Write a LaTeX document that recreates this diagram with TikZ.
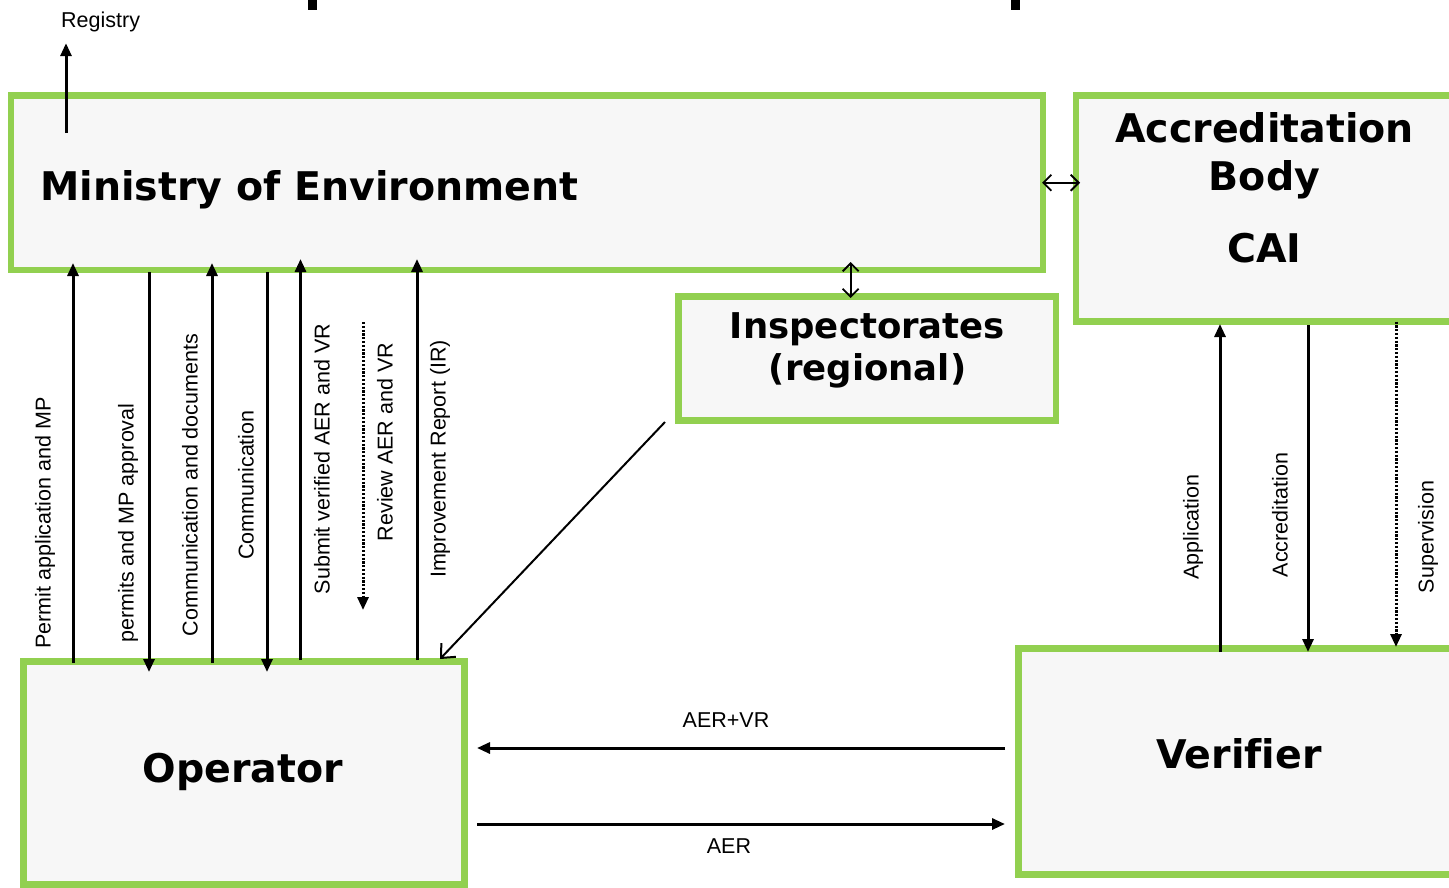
\documentclass[tikz,border=0pt]{standalone}
\usepackage{fontspec}
\setmainfont{Liberation Sans}[Ligatures=NoCommon]
\newfontfamily\titlef{DejaVu Sans}[Ligatures=NoCommon]
\usetikzlibrary{arrows.meta,calc}
\definecolor{boxgreen}{HTML}{92D050}
\definecolor{boxfill}{HTML}{F7F7F7}
\begin{document}
\begin{tikzpicture}[x=1pt,y=-1pt,
  box/.style={draw=boxgreen,fill=boxfill,line width=6.5pt,rectangle,inner sep=0pt,outer sep=0pt},
  title/.style={font=\titlef\bfseries\fontsize{39.5}{46}\selectfont,inner sep=0pt,anchor=base},
  smalltitle/.style={title,font=\titlef\bfseries\fontsize{35.5}{42}\selectfont},
  lbl/.style={font=\fontsize{21.5}{25}\selectfont,inner sep=0pt},
  vlbl/.style={lbl,rotate=90},
  arr/.style={line width=3pt,-{Triangle[length=13pt,width=11pt]}},
  dotarr/.style={arr,dash pattern=on 2.2pt off 1.6pt},
  thinarr/.style={line width=1.8pt,{Straight Barb[length=8pt,width=16pt]}-{Straight Barb[length=8pt,width=16pt]}},
  diagarr/.style={line width=2pt,-{Straight Barb[length=11pt,width=20pt]}},
]
\useasboundingbox (0,0) rectangle (1449,887);
\fill[white] (0,0) rectangle (1449,887);
\clip (0,0) rectangle (1449,887);

% fragments of the cut-off heading
\fill[black] (308,0) rectangle (317,10);
\fill[black] (1011,0) rectangle (1020,10);

% boxes
\node[box,minimum width=1032pt,minimum height=174.5pt] (ministry) at (527,182.75) {};
\node[box,minimum width=404pt,minimum height=226pt] (accred) at (1278,208.5) {};
\node[box,minimum width=377.5pt,minimum height=124pt] (insp) at (867.25,358.5) {};
\node[box,minimum width=441pt,minimum height=223pt] (operator) at (244,773) {};
\node[box,minimum width=461.5pt,minimum height=226pt] (verifier) at (1249.25,761.5) {};

% titles
\node[title,anchor=base west] (tministry) at (40,200) {Ministry of Environment};
\node[title] (tacc1) at (1264.5,142) {Accreditation};
\node[title] (tacc2) at (1264.5,190) {Body};
\node[title] (tcai) at (1264.5,262) {CAI};
\node[smalltitle] (tinsp1) at (867.5,338) {Inspectorates};
\node[smalltitle] (tinsp2) at (867.5,380) {(regional)};
\node[title] (toper) at (243,782) {Operator};
\node[title] (tver) at (1239,768) {Verifier};

% labels
\node[lbl,anchor=base west] (lreg) at (61,27) {Registry};
\node[vlbl] (l1) at (45,523) {Permit application and MP};
\node[vlbl] (l2) at (128,523) {permits and MP approval};
\node[vlbl] (l3) at (190,485) {Communication and documents};
\node[vlbl] (l4) at (246,485) {Communication};
\node[vlbl] (l5) at (322,459) {Submit verified AER and VR};
\node[vlbl] (l6) at (385,442) {Review AER and VR};
\node[vlbl] (l7) at (440,459) {Improvement Report (IR)};
\node[vlbl] (l8) at (1193,527) {Application};
\node[vlbl] (l9) at (1280,515) {Accreditation};
\node[vlbl] (l10) at (1428,537) {Supervision};
\node[lbl] (l11) at (726,720) {AER+VR};
\node[lbl] (l12) at (729,846) {AER};

% x / y guides
\coordinate (xr) at (66,0);
\coordinate (x1) at (73,0);
\coordinate (x2) at (149,0);
\coordinate (x3) at (212,0);
\coordinate (x4) at (267,0);
\coordinate (x5) at (300.5,0);
\coordinate (x7) at (417,0);
\coordinate (xi) at (850.7,0);
\coordinate (xa) at (1220,0);
\coordinate (xb) at (1308,0);
\coordinate (xs) at (1396,0);
\coordinate (yA) at (0,748);
\coordinate (yB) at (0,824);
\coordinate (rv1) at (363,322);
\coordinate (rv2) at (363,610);

% registry
\draw[arr,shorten <=-37.5pt,shorten >=11.5pt] (ministry.north -| xr) -- (lreg.south -| xr);

% ministry <-> operator
\draw[arr,shorten <=-1.5pt,shorten >=-7pt] (operator.north -| x1) -- (ministry.south -| x1);
\draw[arr,shorten <=2pt,shorten >=-10.5pt] (ministry.south -| x2) -- (operator.north -| x2);
\draw[arr,shorten <=-1.5pt,shorten >=-7pt] (operator.north -| x3) -- (ministry.south -| x3);
\draw[arr,shorten <=2pt,shorten >=-10.5pt] (ministry.south -| x4) -- (operator.north -| x4);
\draw[arr,shorten <=1.5pt,shorten >=-11pt] (operator.north -| x5) -- (ministry.south -| x5);
\draw[dotarr] (rv1) -- (rv2);
\draw[arr,shorten <=1.5pt,shorten >=-11pt] (operator.north -| x7) -- (ministry.south -| x7);

% double arrows
\draw[thinarr,shorten <=-1pt,shorten >=-4pt] (ministry.east) -- (accred.west |- ministry.east);
\draw[thinarr,shorten <=-8pt,shorten >=-1.5pt] (ministry.south -| xi) -- (insp.north -| xi);

% inspectorates -> operator
\draw[diagarr] ($(insp.south west)+(-13.5,1.5)$) -- ($(operator.north east)+(-24.5,-2.5)$);

% accreditation <-> verifier
\draw[arr,shorten <=-3.5pt,shorten >=2.5pt] (verifier.north -| xa) -- (accred.south -| xa);
\draw[arr,shorten <=3.5pt,shorten >=-3.5pt] (accred.south -| xb) -- (verifier.north -| xb);
\draw[dotarr,shorten >=1.5pt] (accred.south -| xs) -- (verifier.north -| xs);

% operator <-> verifier
\draw[arr,shorten <=13.5pt,shorten >=12.5pt] (verifier.west |- yA) -- (operator.east |- yA);
\draw[arr,shorten <=12.5pt,shorten >=13.5pt] (operator.east |- yB) -- (verifier.west |- yB);
\end{tikzpicture}
\end{document}
